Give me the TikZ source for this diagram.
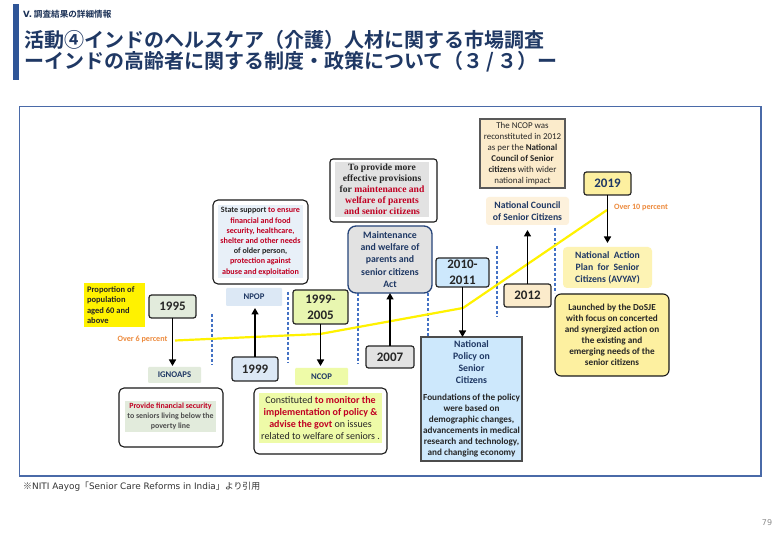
\documentclass[tikz,border=0pt]{standalone}
\usepackage{fontspec}
\setmainfont{Carlito}
\newfontfamily\jp{Noto Sans CJK JP}
\newfontfamily\jpb{Noto Sans CJK JP Bold}
\newfontfamily\dv{DejaVu Sans}
\newfontfamily\srf{Liberation Serif}
\usetikzlibrary{arrows.meta,calc}
\definecolor{navy}{HTML}{1F3864}
\definecolor{barblue}{HTML}{2F5597}
\definecolor{framec}{HTML}{4A6AA8}
\definecolor{redt}{HTML}{C00022}
\definecolor{ink}{HTML}{262626}
\definecolor{orangel}{HTML}{ED8B3E}
\definecolor{dashb}{HTML}{4472C4}
\definecolor{cgreen}{HTML}{E2EBDC}
\definecolor{cblue}{HTML}{DCE8F5}
\definecolor{clime}{HTML}{E8F6B0}
\definecolor{climeb}{HTML}{EEFBA8}
\definecolor{cgrey}{HTML}{E2E2E2}
\definecolor{csky}{HTML}{CDE8FC}
\definecolor{csand}{HTML}{FBEBCB}
\definecolor{csandl}{HTML}{FDF1DC}
\definecolor{cyel}{HTML}{FDF0A0}
\definecolor{cyell}{HTML}{FDF3B4}
\newcommand{\rd}[1]{\textcolor{redt}{#1}}
\newcommand\bx[7]{%
  \pgfmathsetmacro\cxx{(#2+#4)/2}\pgfmathsetmacro\cyy{(#3+#5)/2}%
  \pgfmathsetmacro\wxx{#4-#2}\pgfmathsetmacro\hyy{#5-#3}%
  \node[#6,minimum width=\wxx pt,minimum height=\hyy pt,inner sep=0pt,outer sep=0pt] (#1) at (\cxx,\cyy) {#7};}
\tikzset{
  every node/.style={font=\fontsize{8}{10.3}\selectfont\bfseries,align=center,text=ink},
  yearbox/.style={draw=black!85,line width=1.2pt,rounded corners=2.5pt,font=\fontsize{13}{15.8}\selectfont\bfseries},
  tagbox/.style={text=navy,rounded corners=1pt,font=\fontsize{8.7}{11}\selectfont\bfseries},
  cardbox/.style={draw=black!90,line width=1.1pt,rounded corners=5pt,fill=white},
  innerbox/.style={},
  arrowline/.style={line width=1.5pt,black,-{Triangle[length=6.5pt,width=7pt]}},
  dashline/.style={line width=1.1pt,dashb,dash pattern=on 3pt off 2pt},
  trend/.style={line width=2.2pt,yellow},
  pctlabel/.style={text=orangel,font=\fontsize{8.1}{9}\selectfont\bfseries}
}
\begin{document}
\begin{tikzpicture}[x=1pt,y=-1pt]
\useasboundingbox (0,0) rectangle (780,540);
\fill[white] (0,0) rectangle (780,540);
% header
\fill[barblue] (13,4) rectangle (19,80);
\node[anchor=west,inner sep=0pt,text=navy!85!black,font=\fontsize{8.6}{10}\selectfont] (hdr) at (23,14) {{\dv\bfseries V.} {\jpb 調査結果の詳細情報}};
\node[anchor=west,inner sep=0pt,text=navy,font=\fontsize{20}{22}\selectfont] (t1) at (24,40) {\jpb 活動④インドのヘルスケア（介護）人材に関する市場調査};
\node[anchor=west,inner sep=0pt,text=navy,font=\fontsize{20}{22}\selectfont] (t2) at (24,62) {\jpb ーインドの高齢者に関する制度・政策について（３\,/\,３）ー};
% frame
\draw[framec,line width=1.3pt] (19.5,106.5) rectangle (761,476);
% footer
\node[anchor=west,inner sep=0pt,text=black!80,font=\fontsize{8.9}{10}\selectfont] (foot) at (23,487) {{\jp ※}{\dv NITI Aayog}{\jp 「}{\dv Senior Care Reforms in India}{\jp 」より引用}};
\node[inner sep=0pt,text=black!45,font=\fontsize{8}{9}\selectfont\mdseries] (pg) at (767,523) {\dv 79};
% dashed separators
\coordinate (d1a) at (212,314); \coordinate (d1b) at (212,365);
\coordinate (d2a) at (288,292); \coordinate (d2b) at (288,363);
\coordinate (d3a) at (358,293); \coordinate (d3b) at (358,364);
\coordinate (d4a) at (428,293); \coordinate (d4b) at (428,360);
\coordinate (d5a) at (497,246); \coordinate (d5b) at (497,317);
\coordinate (d6a) at (555,228); \coordinate (d6b) at (555,293);
\foreach \n in {1,...,6} \draw[dashline] (d\n a) -- (d\n b);
% trend line
\coordinate (tr1) at (175,340.5); \coordinate (tr2) at (320,334);
\coordinate (tr3) at (463,308); \coordinate (tr4) at (607,210);
\draw[trend] (tr1) -- (tr2) -- (tr3) -- (tr4);
% labels
\bx{prop}{84}{283}{145}{327}{fill=yellow,font=\fontsize{8.5}{10.6}\selectfont\bfseries}{\hspace*{2pt}\parbox{57pt}{\raggedright Proportion of\\population\\aged 60 and\\above}}
\node[pctlabel,inner sep=0pt] (ov6) at (142.5,339.5) {Over 6 percent};
\node[pctlabel,inner sep=0pt] (ov10) at (641,207.5) {Over 10 percent};
% 1995
\bx{ya}{149}{295}{196}{318}{yearbox,fill=cgreen}{1995}
\bx{ignoaps}{148}{367}{201}{383}{tagbox,fill=cgreen}{IGNOAPS}
\bx{ignocard}{119}{388}{223}{447}{cardbox}{}
\bx{ignoin}{125}{401}{216}{432}{innerbox,fill=cgreen,font=\fontsize{7.9}{10.2}\selectfont\bfseries,text=black!70}{\rd{Provide financial security}\\to seniors living below the\\poverty line}
% 1999
\bx{yb}{232}{357}{278}{381}{yearbox,fill=cblue}{1999}
\bx{npop}{226}{288}{282}{306}{tagbox,fill=cblue}{NPOP}
\bx{npopcard}{213}{200}{308}{284}{cardbox}{}
\bx{npopin}{218}{205}{303}{278}{innerbox,fill=cblue!65!white,font=\fontsize{8.1}{10.2}\selectfont\bfseries}{State support \rd{to ensure}\\\rd{financial and food}\\\rd{security, healthcare,}\\\rd{shelter and other needs}\\of older person,\\\rd{protection against}\\\rd{abuse  and exploitation}}
% 1999-2005
\bx{yc}{293}{290}{348}{324}{yearbox,fill=clime}{1999-\\2005}
\bx{ncop}{295}{368}{348}{385}{tagbox,fill=climeb}{NCOP}
\bx{ncopcard}{254}{388}{387}{454}{cardbox}{}
\bx{ncopin}{259}{393}{382}{443}{innerbox,fill=climeb,font=\fontsize{10}{11.8}\selectfont\bfseries}{{\mdseries Constituted} \rd{to monitor the}\\\rd{implementation of policy \&}\\\rd{advise  the govt} {\mdseries on issues}\\{\mdseries related to  welfare of seniors .}}
% 2007
\bx{yd}{366}{346}{414}{368}{yearbox,fill=cgrey}{2007}
\bx{act}{348}{226}{432}{293}{draw=barblue!80!black,line width=1.3pt,rounded corners=8pt,fill=cgrey,text=navy,font=\fontsize{9.8}{12.1}\selectfont\bfseries}{Maintenance\\and welfare of\\parents and\\senior citizens\\Act}
\bx{actcard}{330}{159}{437}{222}{cardbox,rounded corners=3pt}{}
\bx{actin}{335}{162}{429}{217}{innerbox,fill=cgrey,font=\fontsize{9.6}{11}\selectfont\bfseries\srf}{To provide more\\effective provisions\\for \rd{maintenance and}\\\rd{welfare of parents}\\\rd{and  senior citizens}}
% 2010-2011
\bx{ye}{436}{258}{489}{287}{yearbox,fill=csky,font=\fontsize{13}{15.5}\selectfont\bfseries}{2010-\\2011}
\bx{nps}{421}{337}{522}{461}{draw=black!70,line width=1.1pt,fill=csky}{}
\node[text=navy,inner sep=0pt,font=\fontsize{9.8}{12.2}\selectfont\bfseries] (npst) at (471.5,362) {National\\Policy on\\Senior\\Citizens};
\node[inner sep=0pt,font=\fontsize{9.2}{11}\selectfont\bfseries] (npsb) at (471.5,426) {Foundations of the policy\\were based on\\demographic  changes,\\advancements in  medical\\research and  technology,\\and changing  economy};
% 2012
\bx{yf}{504}{284}{551}{307}{yearbox,fill=csand}{2012}
\bx{ncsc}{486}{197}{569}{225}{tagbox,rounded corners=3pt,fill=csandl,font=\fontsize{9.7}{11.6}\selectfont\bfseries}{National Council\\of Senior Citizens}
\bx{ncin}{480}{119}{565}{188}{draw=black!65,line width=1.1pt,fill=csand,font=\fontsize{8.9}{11}\selectfont\mdseries}{The NCOP was\\reconstituted in 2012\\as per the \textbf{National}\\\textbf{Council of Senior}\\\textbf{citizens} with  wider\\national impact}
% 2019
\bx{yg}{584}{172}{631}{195}{yearbox,fill=cyel,text=navy}{2019}
\bx{avyay}{563}{247}{652}{288}{tagbox,rounded corners=4pt,fill=cyell,font=\fontsize{9.7}{12}\selectfont\bfseries}{National\ \ Action\\Plan\ \ for\ \ Senior\\Citizens (AVYAY)}
\bx{launch}{555}{294}{669}{376}{cardbox,rounded corners=6pt,fill=cyel,font=\fontsize{9.2}{11}\selectfont\bfseries}{Launched by the DoSJE\\with focus on concerted\\and synergized  action on\\the existing and\\emerging needs of the\\senior citizens}
% connectors
\draw[arrowline,shorten >=1pt] (ya.south) -- (ya.south |- ignoaps.north);
\draw[arrowline,shorten >=2pt] (yb.north) -- (yb.north |- npop.south);
\draw[arrowline,shorten >=2pt] (yc.south) -- (yc.south |- ncop.north);
\draw[arrowline] (yd.north) -- (yd.north |- act.south);
\draw[arrowline] (ye.south) -- (ye.south |- nps.north);
\draw[arrowline,shorten >=5pt] (yf.north) -- (yf.north |- ncsc.south);
\draw[arrowline,shorten >=4pt] (yg.south) -- (yg.south |- avyay.north);
\end{tikzpicture}
\end{document}
